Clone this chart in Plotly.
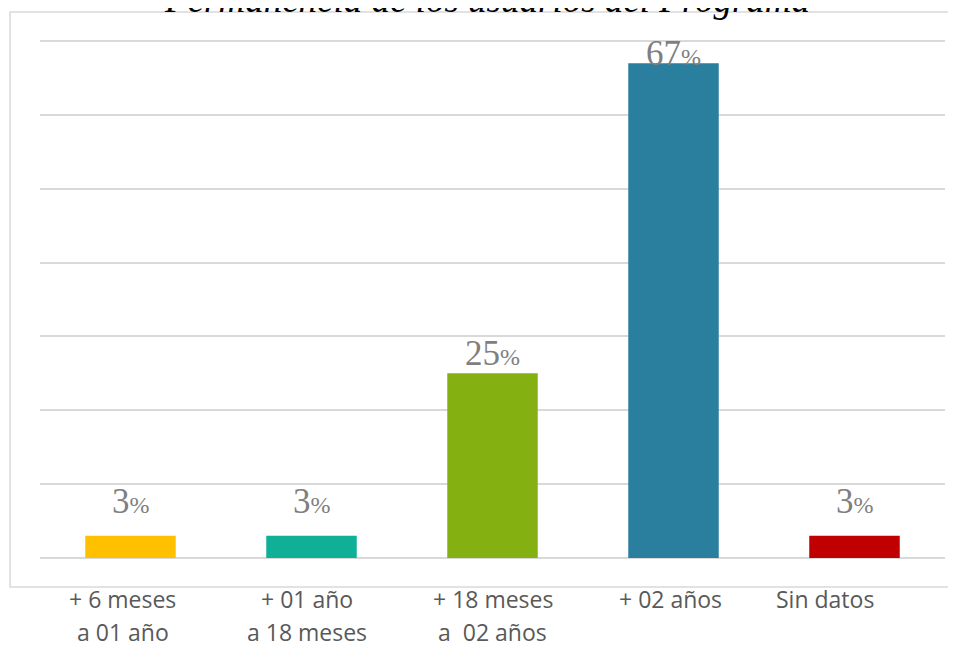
import plotly.graph_objects as go

categories = ["c1", "c2", "c3", "c4", "c5"]
values = [3, 3, 25, 67, 3]
label_line1 = ["+ 6 meses", "+ 01 año", "+ 18 meses", "+ 02 años", "Sin datos"]
label_line2 = ["a 01 año", "a 18 meses", "a\u00a0 02 años", "", ""]
colors = ["#FFC000", "#10B097", "#84B012", "#2A7E9E", "#C00000"]
title_text = "Permanencia de los usuarios del Programa"

label_xshift = [-8, -5, 0, -3, -30]
value_yshift = [34, 34, 20, 10, 34]

fig = go.Figure()
fig.add_trace(go.Bar(
    x=categories, y=values, marker=dict(color=colors, line=dict(width=0)),
    width=0.5, hoverinfo="skip"))

annotations = []
for c, v, ys in zip(categories, values, value_yshift):
    annotations.append(dict(
        x=c, y=v, xref="x", yref="y", yshift=ys, yanchor="middle",
        showarrow=False,
        text=f"{v}<span style='font-size:24px'>%</span>",
        font=dict(family="Liberation Serif", size=35, color="#7f7f7f")))
for c, l1, l2, xs in zip(categories, label_line1, label_line2, label_xshift):
    annotations.append(dict(
        x=c, y=-0.0782, xref="x", yref="paper", xshift=xs, yanchor="middle",
        showarrow=False, text=l1,
        font=dict(family="Open Sans", size=23, color="#595959")))
    if l2:
        annotations.append(dict(
            x=c, y=-0.141, xref="x", yref="paper", xshift=xs, yanchor="middle",
            showarrow=False, text=l2,
            font=dict(family="Open Sans", size=23, color="#595959")))
annotations.append(dict(
    x=0.4934, y=1.066, xref="paper", yref="paper", yanchor="middle",
    showarrow=False, text=f"<i>{title_text}</i>",
    font=dict(family="Liberation Serif", size=37, color="#000000")))

fig.update_layout(
    width=948, height=637,
    margin=dict(l=32, r=11, t=26, b=87),
    paper_bgcolor="white", plot_bgcolor="white",
    showlegend=False,
    bargap=0.5,
    annotations=annotations,
    shapes=[dict(type="rect", xref="paper", yref="paper",
                 x0=-0.0331, x1=1.02, y0=-0.0553, y1=1.042,
                 line=dict(color="#d9d9d9", width=1.5), layer="below")],
    xaxis=dict(showticklabels=False, showgrid=False, zeroline=False,
               showline=False, ticks=""),
    yaxis=dict(range=[0, 70.95], tickvals=[0, 10, 20, 30, 40, 50, 60, 70],
               showticklabels=False,
               showgrid=True, gridcolor="#d9d9d9", gridwidth=1.5,
               zeroline=True, zerolinecolor="#d9d9d9", zerolinewidth=1.5,
               showline=False, ticks=""),
)

fig.write_html("out.html")
